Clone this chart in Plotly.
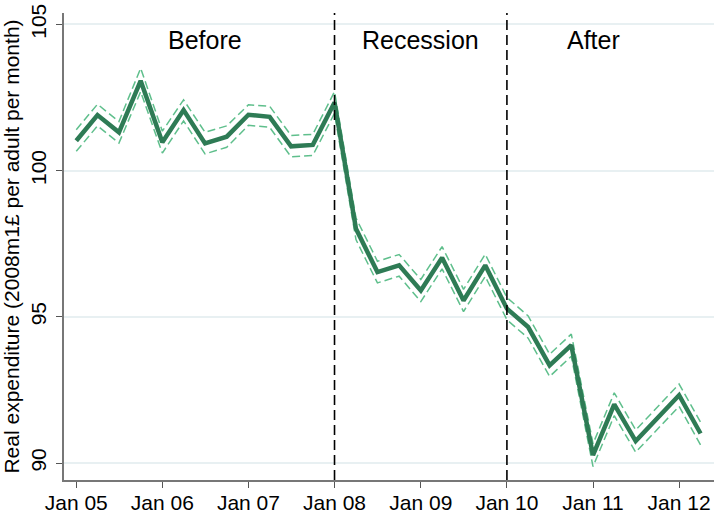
import plotly.graph_objects as go
import pandas as pd

# quarterly observations Jan 2005 .. Apr 2012
dates = [d.strftime("%Y-%m-%d") for d in pd.date_range("2005-01-01", periods=30, freq="QS")]

expenditure = [101.02, 101.90, 101.31, 103.07, 100.97, 102.07, 100.93, 101.16, 101.91, 101.84,
               100.83, 100.88, 102.33, 98.01, 96.53, 96.76, 95.90, 97.02, 95.56, 96.76,
               95.28, 94.65, 93.34, 94.03, 90.27, 92.01, 90.75, 91.52, 92.32, 91.01]
upper = [101.40, 102.27, 101.68, 103.50, 101.35, 102.42, 101.31, 101.53, 102.25, 102.20,
         101.20, 101.24, 102.70, 98.38, 96.90, 97.13, 96.28, 97.40, 95.94, 97.14,
         95.66, 95.03, 93.72, 94.41, 90.66, 92.40, 91.13, 91.90, 92.70, 91.40]
lower = [100.66, 101.53, 100.94, 102.70, 100.60, 101.70, 100.57, 100.80, 101.55, 101.48,
         100.47, 100.52, 101.96, 97.64, 96.16, 96.39, 95.52, 96.64, 95.18, 96.38,
         94.90, 94.27, 92.96, 93.65, 89.88, 91.62, 90.37, 91.14, 91.94, 90.62]

period_labels = ["Before", "Recession", "After"]
period_label_dates = ["2006-07-01", "2009-01-01", "2011-01-01"]
break_dates = ["2008-01-01", "2010-01-01"]

y_ticks = [90, 95, 100, 105]
x_tick_dates = ["2005-01-01", "2006-01-01", "2007-01-01", "2008-01-01",
                "2009-01-01", "2010-01-01", "2011-01-01", "2012-01-01"]
x_tick_labels = ["Jan 05", "Jan 06", "Jan 07", "Jan 08", "Jan 09", "Jan 10", "Jan 11", "Jan 12"]

main_col = "#2e7b55"
ci_col = "#5fbf8c"
FONT = "Arial, Liberation Sans, sans-serif"

fig = go.Figure()
fig.add_trace(go.Scatter(x=dates, y=upper, mode="lines",
                         line=dict(color=ci_col, width=1.5, dash="8px,4px"), showlegend=False))
fig.add_trace(go.Scatter(x=dates, y=lower, mode="lines",
                         line=dict(color=ci_col, width=1.5, dash="8px,4px"), showlegend=False))
fig.add_trace(go.Scatter(x=dates, y=expenditure, mode="lines",
                         line=dict(color=main_col, width=4.5), showlegend=False))

for d in break_dates:
    fig.add_shape(type="line", xref="x", yref="paper", x0=d, x1=d, y0=0, y1=1,
                  line=dict(color="black", width=1.6, dash="10px,5px"))

for lab, d in zip(period_labels, period_label_dates):
    fig.add_annotation(x=d, y=104.45, xref="x", yref="y", text=lab, showarrow=False,
                       font=dict(family=FONT, size=25, color="black"))

fig.update_layout(
    width=715, height=515,
    margin=dict(l=64, r=1, t=13, b=35),
    paper_bgcolor="white", plot_bgcolor="white",
    font=dict(family=FONT, size=22, color="black"),
)
fig.update_xaxes(
    type="date", range=["2004-11-10", "2012-05-28"],
    tickvals=x_tick_dates, ticktext=x_tick_labels,
    showgrid=False, zeroline=False, automargin=False,
    showline=True, linecolor="#777777", linewidth=1.5,
    ticks="outside", ticklen=6, tickwidth=1.2, tickcolor="#555555",
    tickfont=dict(family=FONT, size=21, color="black"),
    ticklabelstandoff=-3,
)
fig.update_yaxes(
    range=[89.42, 105.39], automargin=False,
    tickvals=y_ticks, ticktext=[str(v) for v in y_ticks],
    tickangle=-90,
    showgrid=True, gridcolor="#e8f0f2", gridwidth=1.5,
    zeroline=False,
    showline=True, linecolor="#777777", linewidth=1.5,
    ticks="outside", ticklen=6, tickwidth=1.2, tickcolor="#555555",
    tickfont=dict(family=FONT, size=21, color="black"),
    ticklabelstandoff=2,
    title=dict(text="Real expenditure (2008m1£ per adult per month)",
               font=dict(family=FONT, size=21, color="black"), standoff=2),
)

fig.write_html("out.html")
